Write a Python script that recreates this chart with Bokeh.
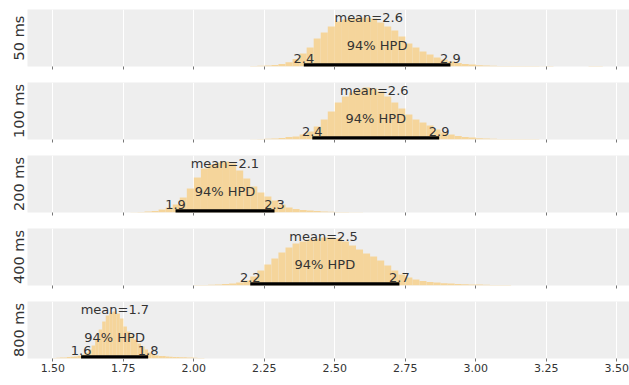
from bokeh.plotting import figure
from bokeh.layouts import column
from bokeh.models import FixedTicker, Range1d, CustomJSTickFormatter, Label
from bokeh.embed import file_html
from bokeh.resources import INLINE
from bokeh.core.properties import value

panel_labels = ["50 ms", "100 ms", "200 ms", "400 ms", "800 ms"]
tick_values = [1.5, 1.75, 2.0, 2.25, 2.5, 2.75, 3.0, 3.25, 3.5]
tick_labels = ["1.50", "1.75", "2.00", "2.25", "2.50", "2.75", "3.00", "3.25", "3.50"]
x_label = "κ"

means = [2.62, 2.64, 2.11, 2.46, 1.72]
hpd_low = [2.39, 2.42, 1.935, 2.20, 1.60]
hpd_high = [2.91, 2.87, 2.286, 2.729, 1.838]

bin_start = [2.20, 2.20, 1.775, 2.00, 1.50]
bin_width = [0.025, 0.025, 0.025, 0.025, 0.0125]

freq_50 = [0.5, 0.7, 1.0, 1.5, 2.5, 4.3, 7.5, 13, 19, 28, 34, 40, 45, 47, 48, 49, 49, 48,
           44, 40, 36, 30, 23, 19, 15, 12, 9, 7, 5, 3.5, 2.5, 2, 1.3, 1.0, 0.8, 0.6, 0.6,
           0.5, 0.4, 0.4, 0.5, 0.3, 0.4, 0, 0, 0, 0, 0, 0.4, 0.4]
freq_100 = [0.3, 0.5, 0.7, 1, 1.5, 2.5, 3, 5, 8, 13, 20, 28, 37, 43, 47, 50, 52, 51, 48, 43,
            37, 31, 25, 20, 17, 14, 10, 7, 5, 3.5, 2.5, 2, 1.3, 1, 0.8, 0.6, 0.6, 0.5, 0.5,
            0.5, 0.4]
freq_200 = [0.3, 0.6, 1, 1.5, 3, 5, 8, 15, 24, 35, 44, 48, 50, 51, 49, 42, 34, 26, 20, 16,
            12, 8, 5, 3.5, 2.5, 2, 1.5, 1, 0.8, 0.5, 0.4, 0.3, 0.3]
freq_400 = [0.4, 0.6, 0.8, 1, 1.5, 2, 3, 5, 9, 15, 21, 27, 33, 38, 42, 44, 46, 47, 48, 48,
            47, 44, 40, 36, 32, 29, 25, 20, 15, 11, 8, 6, 4.5, 3.5, 3, 2.3, 2, 1.6, 1.3, 1,
            0.9, 0.8, 0.6, 0.5, 0.4]
freq_800 = [0.6, 0.8, 1, 1, 1.5, 1.7, 2, 2.7, 4, 6, 9, 13, 20, 29, 37, 43, 46, 47, 45, 40,
            32, 27, 23, 19, 15, 12, 9, 6, 4, 3, 2.5, 2.5, 2, 1.7, 1.6, 1.5, 1.3, 1.2, 1,
            0.9, 0.8, 0.6, 0.4]
freqs = [freq_50, freq_100, freq_200, freq_400, freq_800]

BAR = "#F5D59B"
TXT = "#333333"
FONT = "DejaVu Sans"
Y_TOP = 57

heights = [74, 73, 73, 73, 92]
tops = [9, 8, 8, 8, 8]
bottoms = [8, 8, 8, 8, 27]

x_range = Range1d(1.41, 3.545)
figs = []
for i in range(5):
    last = i == 4
    p = figure(width=629, height=heights[i], x_range=x_range,
               y_range=Range1d(0, Y_TOP), output_backend="svg", toolbar_location=None,
               min_border_left=27, min_border_right=0, min_border_top=tops[i],
               min_border_bottom=bottoms[i])
    p.background_fill_color = "#EEEEEE"
    p.border_fill_color = "white"
    p.outline_line_color = None
    p.ygrid.grid_line_color = None
    p.xgrid.grid_line_color = "white"
    p.xgrid.grid_line_width = 1
    p.xgrid.ticker = FixedTicker(ticks=tick_values)

    p.xaxis.ticker = FixedTicker(ticks=tick_values)
    p.xaxis.axis_line_color = None
    p.xaxis.major_tick_line_color = "#777777"
    p.xaxis.major_tick_in = 0
    p.xaxis.major_tick_out = 3
    p.xaxis.minor_tick_line_color = None
    p.xaxis.minor_tick_in = 0
    p.xaxis.minor_tick_out = 0
    if last:
        p.xaxis.major_label_overrides = {v: s for v, s in zip(tick_values, tick_labels)}
        p.xaxis.major_label_text_font = FONT
        p.xaxis.major_label_text_font_size = "11px"
        p.xaxis.major_label_text_color = TXT
        p.xaxis.major_label_standoff = 2
        p.add_layout(Label(x=(x_range.start + x_range.end) / 2, y=-Y_TOP * 0.345,
                           text=x_label, text_align="center", text_baseline="middle",
                           text_font=FONT, text_font_size="11px",
                           text_font_style="italic", text_color=TXT))
    else:
        p.xaxis.formatter = CustomJSTickFormatter(code="return ''")
        p.xaxis.major_label_text_font_size = "1px"
        p.xaxis.major_label_standoff = 0

    p.yaxis.ticker = FixedTicker(ticks=[])
    p.yaxis.axis_line_color = None
    p.yaxis.major_tick_line_color = None
    p.yaxis.minor_tick_line_color = None
    p.yaxis.major_tick_in = 0
    p.yaxis.major_tick_out = 0
    p.yaxis.minor_tick_in = 0
    p.yaxis.minor_tick_out = 0
    p.yaxis.major_label_standoff = 0
    p.yaxis.axis_label = panel_labels[i]
    p.yaxis.axis_label_text_font = FONT
    p.yaxis.axis_label_text_font_size = "14.5px"
    p.yaxis.axis_label_text_font_style = "normal"
    p.yaxis.axis_label_text_color = TXT
    p.yaxis.axis_label_standoff = 1

    f = freqs[i]
    lefts = [bin_start[i] + k * bin_width[i] for k in range(len(f))]
    rights = [l + bin_width[i] for l in lefts]
    p.quad(left=lefts, right=rights, bottom=0, top=f, fill_color=BAR, line_color=None)

    p.segment(x0=[hpd_low[i]], y0=[0], x1=[hpd_high[i]], y1=[0], line_color="black",
              line_width=6.5)

    mid = (hpd_low[i] + hpd_high[i]) / 2
    p.text(x=[means[i]], y=[Y_TOP * 0.865], text=[f"mean={means[i]:.1f}"],
           text_align="center", text_baseline="middle", text_font=value(FONT),
           text_font_size="13px", text_color=TXT)
    p.text(x=[mid], y=[Y_TOP * 0.377], text=["94% HPD"],
           text_align="center", text_baseline="middle", text_font=value(FONT),
           text_font_size="13px", text_color=TXT)
    p.text(x=[hpd_low[i], hpd_high[i]], y=[Y_TOP * 0.144] * 2,
           text=[f"{hpd_low[i]:.1f}", f"{hpd_high[i]:.1f}"],
           text_align="center", text_baseline="middle", text_font=value(FONT),
           text_font_size="13px", text_color=TXT)
    figs.append(p)

layout = column(*figs, spacing=0)
open("out.html", "w").write(file_html(layout, INLINE))
